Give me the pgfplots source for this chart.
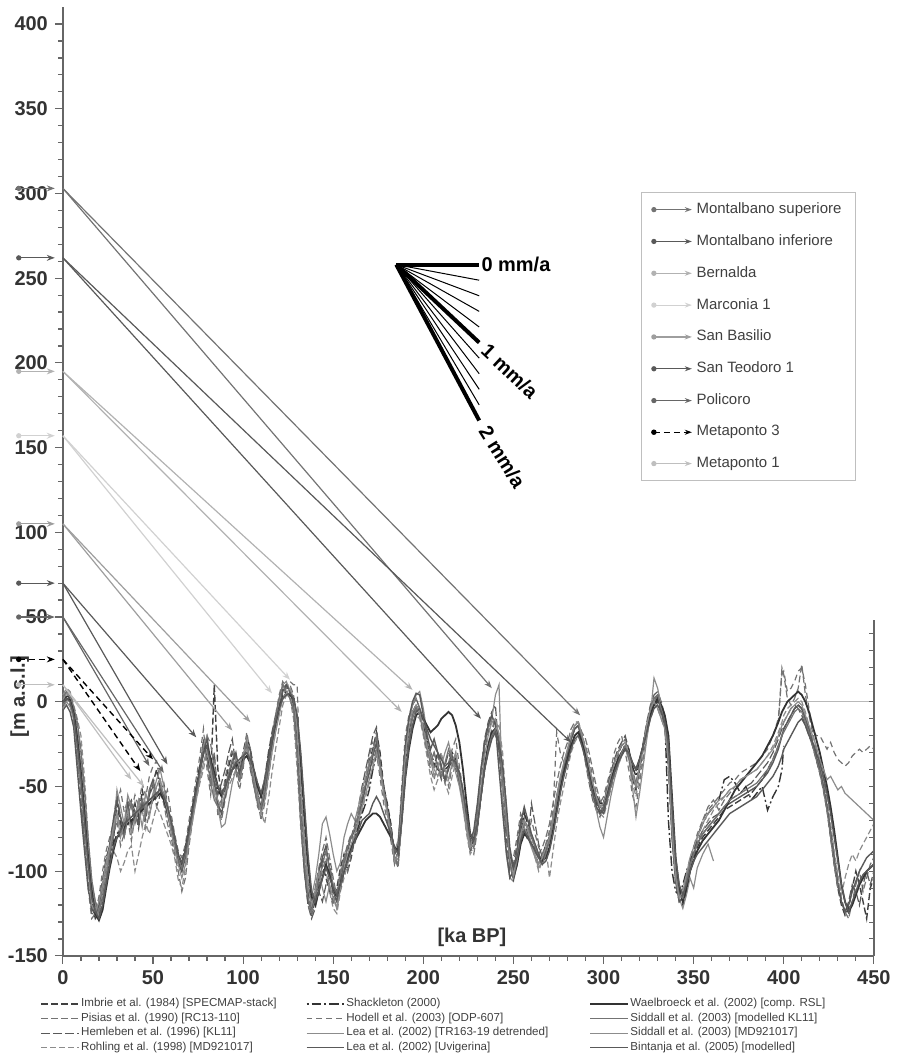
\documentclass[border=0pt]{standalone}
\usepackage{fontspec}
\setmainfont{Liberation Sans}
\usepackage{pgfplots}
\usepackage{pgfplotstable}
\pgfplotsset{compat=1.18}
\usetikzlibrary{arrows.meta}

\definecolor{g20}{gray}{0.20}
\definecolor{g25}{gray}{0.25}
\definecolor{g30}{gray}{0.30}
\definecolor{g35}{gray}{0.35}
\definecolor{g40}{gray}{0.40}
\definecolor{g45}{gray}{0.45}
\definecolor{g50}{gray}{0.50}
\definecolor{g55}{gray}{0.55}
\definecolor{g62}{gray}{0.62}
\definecolor{g65}{gray}{0.65}
\definecolor{g70}{gray}{0.70}
\definecolor{g75}{gray}{0.75}
\definecolor{g82}{gray}{0.82}
\definecolor{axisgray}{gray}{0.40}

% sea level curves, m a.s.l. against ka BP
% a Imbrie, b Pisias, c Hemleben, d Rohling, e Shackleton, f Hodell,
% g Lea TR163, h Lea Uvigerina, i Waelbroeck, j Siddall KL11, k Siddall MD, l Bintanja
\pgfplotstableread{
x a b c d e f g h i j k l
0 0 2 -3 4 0 -2 1 -5 0 3 -4 0
2 4 6 1 8 3 2 5 -2 2 6 0 2
4 2 5 -2 6 4 0 3 -6 1 4 -3 0
6 -8 -4 -10 -2 -6 -12 -5 -15 -6 -3 -10 -8
8 -25 -15 -30 -10 -20 -35 -18 -40 -22 -12 -28 -25
10 -45 -30 -55 -20 -40 -60 -38 -65 -42 -28 -50 -45
12 -70 -55 -80 -45 -65 -85 -62 -88 -66 -52 -75 -70
14 -95 -85 -105 -80 -92 -110 -88 -110 -92 -80 -100 -95
16 -118 -110 -125 -105 -112 -128 -108 -122 -112 -105 -120 -115
18 -128 -120 -126 -120 -124 -125 -118 -126 -125 -118 -124 -124
20 -125 -128 -118 -126 -128 -115 -122 -120 -129 -124 -118 -128
22 -115 -122 -105 -120 -120 -100 -112 -108 -123 -116 -108 -120
24 -100 -110 -92 -108 -106 -88 -100 -95 -110 -104 -95 -108
26 -90 -95 -85 -96 -94 -80 -88 -84 -98 -90 -86 -96
28 -82 -80 -70 -88 -84 -72 -76 -70 -88 -78 -74 -86
30 -60 -70 -55 -92 -78 -60 -52 -58 -80 -66 -66 -80
32 -72 -85 -68 -100 -75 -52 -62 -68 -78 -74 -80 -76
34 -80 -78 -75 -95 -70 -65 -72 -78 -74 -80 -72 -72
36 -66 -70 -62 -88 -68 -58 -55 -60 -72 -68 -64 -70
38 -72 -82 -58 -85 -72 -64 -62 -74 -70 -60 -78 -68
40 -60 -68 -65 -100 -66 -55 -70 -66 -68 -72 -70 -66
42 -70 -58 -75 -90 -64 -62 -58 -72 -66 -64 -62 -64
44 -52 -62 -60 -80 -62 -48 -66 -58 -64 -58 -74 -62
46 -62 -75 -70 -72 -60 -56 -54 -66 -62 -66 -60 -60
48 -55 -66 -55 -78 -58 -44 -62 -52 -60 -52 -68 -58
50 -48 -58 -50 -70 -56 -38 -54 -46 -58 -48 -56 -56
52 -40 -50 -62 -62 -54 -35 -46 -56 -56 -56 -50 -54
54 -52 -45 -55 -66 -52 -48 -40 -50 -54 -50 -46 -52
56 -60 -60 -48 -72 -56 -58 -50 -58 -58 -54 -56 -56
58 -66 -72 -60 -78 -62 -52 -62 -66 -64 -62 -64 -62
60 -74 -80 -72 -84 -70 -66 -74 -76 -72 -72 -76 -70
62 -85 -90 -82 -92 -80 -78 -84 -86 -82 -82 -86 -80
64 -95 -100 -92 -105 -90 -88 -94 -95 -92 -92 -96 -90
66 -100 -112 -96 -110 -95 -92 -98 -100 -96 -98 -104 -95
68 -88 -104 -90 -98 -86 -84 -90 -92 -88 -90 -96 -88
70 -75 -85 -78 -80 -74 -70 -76 -78 -76 -78 -82 -76
72 -62 -70 -65 -68 -62 -58 -64 -66 -64 -66 -70 -64
74 -50 -55 -52 -58 -50 -45 -52 -54 -52 -54 -58 -52
76 -38 -42 -40 -48 -38 -32 -40 -42 -40 -42 -46 -40
78 -25 -30 -22 -40 -28 -16 -26 -30 -30 -28 -36 -30
80 -30 -20 -35 -30 -32 -40 -20 -22 -26 -34 -28 -26
82 -45 -25 -50 -42 -40 -55 -38 -35 -34 -48 -40 -36
84 10 -40 -30 -55 -48 -30 -55 -48 -42 -58 -52 -44
86 -40 -62 -55 -60 -52 -68 -62 -60 -50 -62 -58 -50
88 -55 -70 -48 -62 -56 -60 -74 -66 -55 -58 -62 -54
90 -48 -58 -40 -55 -52 -45 -72 -56 -52 -50 -54 -50
92 -38 -48 -30 -50 -46 -35 -60 -44 -46 -42 -46 -45
94 -30 -40 -22 -45 -40 -28 -48 -36 -40 -34 -40 -40
96 -35 -32 -38 -40 -36 -42 -40 -30 -38 -40 -34 -36
98 -42 -45 -48 -38 -34 -52 -46 -42 -36 -46 -38 -34
100 -30 -38 -35 -30 -32 -40 -32 -34 -34 -36 -30 -32
102 -20 -25 -22 -28 -30 -18 -22 -26 -32 -24 -28 -30
104 -28 -30 -40 -35 -34 -30 -36 -28 -36 -38 -34 -34
106 -40 -45 -50 -42 -40 -48 -46 -44 -42 -50 -44 -40
108 -55 -58 -60 -52 -48 -62 -58 -56 -50 -60 -56 -48
110 -62 -70 -55 -65 -56 -66 -64 -64 -56 -62 -66 -54
112 -50 -60 -45 -72 -50 -54 -52 -56 -48 -50 -58 -46
114 -35 -45 -30 -58 -36 -38 -38 -40 -34 -36 -44 -34
116 -20 -30 -18 -42 -22 -22 -24 -26 -22 -22 -30 -22
118 -10 -18 -8 -28 -10 -8 -12 -14 -12 -10 -18 -12
120 0 -6 2 -15 -2 4 0 -4 -4 2 -8 -4
122 8 5 10 -2 4 12 10 6 2 10 2 2
124 10 8 6 4 6 8 12 10 5 6 5 4
126 5 10 2 2 4 12 6 6 4 2 8 5
128 2 4 -6 -10 2 10 0 -2 2 -4 2 2
130 -10 -20 -30 -40 -20 10 -18 -30 -10 -30 -15 -8
132 -40 -55 -70 -75 -55 -60 -50 -70 -35 -70 -50 -30
134 -75 -85 -100 -100 -85 -95 -80 -100 -65 -95 -85 -60
136 -105 -110 -120 -118 -112 -120 -105 -118 -95 -115 -110 -90
138 -122 -118 -128 -124 -125 -126 -115 -122 -115 -124 -120 -112
140 -118 -110 -122 -114 -118 -120 -105 -112 -120 -116 -112 -118
142 -108 -98 -112 -100 -105 -110 -90 -100 -112 -106 -100 -112
144 -96 -88 -118 -92 -95 -100 -72 -92 -104 -96 -110 -104
146 -104 -80 -108 -100 -88 -92 -68 -85 -96 -88 -118 -98
148 -112 -92 -100 -112 -96 -110 -78 -100 -102 -98 -108 -104
150 -118 -104 -115 -122 -110 -120 -90 -112 -110 -108 -116 -110
152 -110 -115 -122 -125 -118 -112 -100 -118 -114 -114 -122 -114
154 -98 -104 -110 -112 -110 -100 -95 -106 -108 -102 -110 -108
156 -90 -92 -98 -104 -100 -92 -80 -95 -100 -94 -98 -100
158 -100 -84 -88 -96 -92 -100 -72 -86 -92 -86 -90 -94
160 -92 -78 -80 -88 -86 -90 -66 -80 -86 -80 -84 -88
162 -80 -84 -72 -80 -80 -78 -70 -76 -82 -74 -78 -82
164 -70 -74 -62 -72 -74 -66 -62 -70 -78 -66 -70 -76
166 -58 -62 -50 -64 -66 -54 -52 -60 -74 -56 -62 -70
168 -48 -50 -40 -56 -60 -44 -44 -50 -70 -48 -54 -68
170 -35 -42 -30 -48 -52 -32 -36 -42 -68 -38 -46 -66
172 -28 -35 -20 -40 -40 -24 -30 -32 -66 -30 -38 -60
174 -18 -28 -15 -32 -30 -30 -26 -24 -66 -20 -30 -56
176 -30 -40 -35 -40 -38 -45 -40 -38 -68 -36 -40 -60
178 -50 -55 -50 -52 -50 -60 -52 -52 -72 -52 -54 -66
180 -60 -65 -62 -62 -62 -70 -64 -64 -76 -64 -66 -72
182 -72 -76 -74 -76 -74 -82 -76 -76 -80 -76 -78 -78
184 -90 -92 -95 -96 -92 -96 -88 -90 -86 -92 -94 -86
186 -85 -98 -88 -92 -95 -88 -82 -86 -88 -96 -90 -90
188 -60 -70 -55 -65 -70 -50 -58 -56 -70 -72 -62 -70
190 -30 -40 -25 -38 -40 -20 -30 -26 -45 -42 -32 -44
192 -15 -20 -10 -22 -18 -8 -12 -10 -28 -22 -16 -26
194 -8 -8 -2 -14 -6 -2 -2 0 -16 -10 -6 -14
196 -4 -2 2 -8 -2 2 4 5 -8 -4 -2 -6
198 -8 -6 -4 -10 -6 -4 6 4 -6 -8 -6 -4
200 -15 -18 -14 -20 -14 -12 -4 -8 -10 -18 -16 -10
202 -24 -30 -26 -32 -22 -24 -18 -20 -14 -28 -26 -16
204 -32 -40 -36 -44 -30 -34 -30 -28 -18 -36 -34 -22
206 -38 -46 -30 -52 -36 -40 -40 -22 -16 -30 -44 -26
208 -30 -36 -38 -46 -40 -32 -44 -30 -14 -38 -38 -30
210 -40 -30 -46 -40 -42 -40 -38 -38 -10 -44 -32 -34
212 -46 -42 -38 -48 -40 -48 -30 -46 -8 -36 -40 -38
214 -38 -50 -30 -54 -38 -36 -24 -40 -6 -28 -46 -36
216 -30 -38 -36 -44 -36 -28 -34 -32 -8 -34 -36 -34
218 -34 -30 -40 -36 -38 -22 -42 -36 -14 -38 -30 -36
220 -42 -44 -48 -46 -44 -38 -50 -46 -24 -46 -44 -42
222 -55 -58 -60 -62 -54 -52 -62 -58 -40 -58 -58 -52
224 -70 -74 -76 -78 -68 -70 -76 -72 -60 -72 -74 -66
226 -84 -86 -88 -90 -80 -84 -86 -82 -78 -84 -86 -78
228 -80 -90 -82 -86 -84 -80 -78 -76 -82 -86 -84 -82
230 -65 -76 -66 -72 -74 -62 -62 -60 -72 -74 -70 -72
232 -45 -55 -40 -56 -56 -40 -42 -40 -54 -56 -50 -56
234 -28 -38 -22 -40 -40 -24 -26 -24 -38 -40 -32 -40
236 -18 -25 -12 -30 -28 -14 -16 -14 -26 -28 -20 -30
238 -10 -16 -6 -22 -20 -8 -10 -8 -18 -20 -12 -22
240 -12 -10 -2 -16 -16 -20 4 -14 -16 -16 -10 -18
242 -25 -20 -30 -14 -22 -30 10 -40 -24 -24 -20 -24
244 -45 -40 -55 -30 -40 -50 -60 -65 -40 -44 -40 -38
246 -70 -68 -80 -60 -66 -76 -90 -88 -66 -70 -66 -60
248 -95 -92 -100 -88 -90 -98 -104 -104 -92 -96 -92 -86
250 -104 -100 -96 -102 -100 -92 -106 -100 -104 -104 -102 -98
252 -96 -88 -84 -94 -92 -80 -96 -88 -96 -94 -92 -92
254 -82 -76 -70 -80 -78 -66 -84 -72 -84 -80 -78 -82
256 -72 -64 -76 -68 -66 -72 -74 -62 -78 -70 -70 -76
258 -78 -70 -82 -76 -72 -80 -80 -70 -80 -74 -76 -80
260 -84 -78 -60 -84 -80 -70 -86 -78 -84 -80 -84 -84
262 -90 -84 -72 -92 -86 -78 -92 -84 -88 -86 -90 -88
264 -96 -90 -84 -100 -90 -86 -98 -90 -92 -92 -96 -92
266 -92 -86 -92 -94 -94 -90 -94 -94 -94 -96 -92 -96
268 -84 -80 -88 -86 -88 -84 -88 -88 -92 -90 -86 -94
270 -80 -72 -82 -104 -80 -76 -82 -80 -86 -82 -80 -88
272 -70 -60 -72 -88 -70 -64 -72 -68 -76 -70 -68 -78
274 -58 -48 -56 -72 -58 -18 -60 -56 -64 -58 -56 -66
276 -48 -38 -46 -60 -48 -30 -48 -46 -52 -46 -44 -54
278 -40 -30 -38 -50 -40 -36 -38 -38 -42 -36 -36 -44
280 -32 -24 -30 -40 -34 -30 -30 -30 -34 -28 -28 -36
282 -22 -16 -22 -30 -26 -22 -22 -22 -26 -20 -20 -28
284 -16 -12 -16 -24 -20 -16 -16 -16 -20 -14 -14 -22
286 -14 -12 -14 -20 -18 -14 -14 -14 -18 -12 -12 -20
288 -20 -18 -24 -26 -24 -20 -22 -22 -24 -20 -20 -26
290 -30 -22 -36 -34 -32 -26 -34 -30 -32 -28 -28 -34
292 -42 -30 -48 -44 -42 -34 -46 -40 -42 -38 -38 -44
294 -52 -40 -58 -54 -50 -44 -56 -50 -50 -48 -48 -54
296 -60 -50 -64 -62 -58 -54 -64 -58 -56 -56 -56 -62
298 -66 -58 -68 -66 -62 -60 -74 -64 -60 -62 -62 -66
300 -62 -62 -60 -68 -60 -56 -80 -66 -60 -64 -60 -64
302 -54 -56 -50 -60 -52 -48 -68 -58 -54 -58 -52 -56
304 -46 -48 -42 -52 -44 -40 -56 -50 -46 -50 -44 -48
306 -40 -40 -34 -44 -36 -30 -46 -42 -40 -42 -36 -42
308 -34 -32 -28 -38 -30 -24 -38 -36 -34 -36 -30 -36
310 -30 -26 -24 -32 -26 -20 -32 -30 -30 -30 -26 -32
312 -26 -22 -20 -28 -24 -30 -28 -26 -28 -26 -24 -28
314 -32 -28 -28 -34 -28 -40 -32 -32 -30 -32 -30 -30
316 -45 -40 -42 -48 -38 -55 -50 -44 -36 -44 -42 -36
318 -52 -48 -50 -56 -44 -62 -68 -50 -40 -50 -50 -40
320 -40 -38 -36 -44 -36 -48 -54 -38 -34 -38 -38 -34
322 -28 -26 -24 -32 -26 -34 -38 -26 -26 -26 -26 -26
324 -16 -14 -12 -20 -16 -20 -22 -14 -16 -14 -14 -18
326 -6 -4 -2 -10 -8 -8 -8 -4 -8 -4 -4 -10
328 -2 0 4 -4 -2 0 14 2 -2 2 0 -4
330 0 -4 6 -2 2 4 8 4 2 4 -4 -2
332 -6 -10 0 -8 -4 -2 -2 -6 -2 -4 -10 -6
334 -14 -16 -8 -14 -10 -10 -14 -14 -8 -12 -16 -12
336 -30 -40 -20 -36 -70 -30 -30 -36 -20 -30 -36 -24
338 -70 -80 -60 -76 -100 -76 -70 -80 -56 -72 -76 -60
340 -100 -108 -96 -104 -112 -104 -100 -106 -92 -100 -104 -92
342 -116 -118 -112 -118 -114 -114 -116 -118 -110 -114 -116 -108
344 -120 -114 -118 -116 -108 -110 -122 -116 -118 -116 -112 -114
346 -112 -104 -108 -106 -100 -102 -114 -106 -110 -106 -102 -108
348 -100 -94 -96 -96 -94 -92 -104 -96 -100 -96 -92 -100
350 -92 -88 -88 -90 -86 -86 -110 -90 -94 -90 -86 -94
352 -86 -80 -82 -84 -80 -78 -98 -84 -88 -84 -80 -90
355 -80 -70 -76 -76 -72 -70 -90 -78 -82 -78 -72 -86
358 -76 -62 -72 -70 -66 -64 -84 -74 -78 -74 -66 -82
361 -72 -58 -68 -64 -62 -60 -94 -70 -74 -70 -62 -78
364 -68 -64 -66 -60 -58 -56 nan -66 -70 -66 -58 -74
367 -64 -58 -62 -56 -46 -52 nan -62 -64 -62 -56 -70
370 -62 -54 -58 -52 -44 -48 nan -60 -58 -58 -52 -66
373 -60 -50 -56 -50 -48 -46 nan -58 -52 -56 -50 -64
376 -58 -46 -54 -46 -54 -42 nan -56 -48 -54 -46 -62
379 -56 -44 -50 -44 -50 -40 nan -54 -44 -52 -44 -60
382 -54 -40 -48 -42 -58 -38 nan -52 -40 -50 -42 -58
385 -50 -36 -44 -40 -54 -36 nan -50 -36 -48 -40 -56
388 -46 -32 -40 -36 -50 -32 nan -46 -32 -44 -36 -52
391 -40 -26 -36 -32 -64 -28 nan -42 -26 -40 -32 -48
394 -34 -20 -30 -26 -56 -20 nan -36 -20 -34 -28 -44
397 -26 -12 -22 -18 -50 -10 nan -28 -12 -26 -20 -38
399 -20 20 -16 -12 -40 16 nan -20 -6 -20 -14 -32
400 -16 16 -12 -8 -26 18 nan -16 -4 -18 -12 -28
402 -12 2 -8 -4 nan 6 nan -12 0 -14 -8 -24
404 -8 -2 -4 -2 nan 8 nan -8 2 -10 -4 -20
406 -4 2 -2 0 nan 12 nan -4 4 -6 -2 -16
408 -2 8 -4 2 nan 18 nan -2 6 -4 0 -12
410 -4 22 -8 0 nan 20 nan -4 4 -6 -2 -10
412 -10 4 -14 -6 nan 10 nan -10 0 -12 -8 -14
414 -18 -8 -20 -14 nan -4 nan -16 -6 -18 -14 -20
416 -26 -18 -26 -22 nan -16 nan -24 -14 -26 -20 -24
418 -34 -28 -32 -30 nan -20 nan -32 -22 -34 -26 -30
420 -42 -36 -40 -38 nan -20 nan -40 -30 -42 -34 -36
422 -52 -46 -50 -48 nan -24 nan -50 -40 -52 -40 -44
424 -64 -58 -62 -58 nan -28 nan -62 -50 -64 -46 -54
426 -80 -74 -78 -72 nan -24 nan -78 -62 -80 -44 -66
428 -96 -90 -94 -88 nan -30 nan -94 -76 -96 -48 -80
430 -110 -104 -108 -102 nan -34 nan -108 -92 -110 -52 -94
432 -120 -116 -118 -114 nan -36 nan -118 -108 nan -50 -108
434 -126 -124 -124 -104 nan -38 nan -124 -118 nan -54 -118
436 -122 -128 -118 -96 nan -36 nan -120 -124 nan -56 -124
438 -110 -118 -108 -90 nan -32 nan -112 -120 nan -58 -118
440 -100 -108 -112 -94 nan -30 nan -106 -114 nan -60 -112
442 -108 -100 -120 -88 nan -28 nan -100 -108 nan -62 -106
444 -118 -112 -108 -84 nan -30 nan -96 -104 nan -64 -102
446 -128 -104 -100 -80 nan -28 nan -92 -100 nan -66 -100
448 -110 -96 -108 -76 nan -26 nan -90 -98 nan -68 -98
450 -104 -92 -100 -72 nan -28 nan -88 -96 nan -70 -96
}\sealevel

\pgfplotsset{
  frame/.style={width=406pt, height=475pt, scale only axis,
    xmin=0, xmax=450, ymin=-150, ymax=410, clip=false},
  sa/.style={g25, line width=0.7pt, dash pattern=on 3.5pt off 1.5pt},
  sb/.style={g45, line width=0.6pt, dash pattern=on 3.5pt off 1.5pt},
  sc/.style={g35, line width=0.6pt, dash pattern=on 4.5pt off 1.5pt},
  sd/.style={g55, line width=0.6pt, dash pattern=on 3pt off 1.5pt},
  se/.style={g20, line width=0.7pt, dash pattern=on 1pt off 1.5pt on 5pt off 1.5pt},
  sf/.style={g45, line width=0.6pt, dash pattern=on 3pt off 2pt},
  sg/.style={g55, line width=0.6pt},
  sh/.style={g35, line width=0.7pt},
  si/.style={g20, line width=0.9pt},
  sj/.style={g45, line width=0.6pt},
  sk/.style={g55, line width=0.6pt},
  sl/.style={g35, line width=0.7pt},
  tsup/.style={g45, line width=0.6pt},
  tinf/.style={g35, line width=0.6pt},
  tber/.style={g70, line width=0.6pt},
  tmar/.style={g82, line width=0.6pt},
  tbas/.style={g62, line width=0.6pt},
  tteo/.style={g35, line width=0.6pt},
  tpol/.style={g40, line width=0.6pt},
  tmp3/.style={black, line width=0.7pt, dash pattern=on 3pt off 2pt},
  tmp1/.style={g75, line width=0.6pt},
  tarrow/.style={-{Stealth[length=4pt,width=3pt]}},
  tleft/.style={-{Stealth[length=4pt,width=3pt]}, mark=*, mark indices={1},
    mark size=1pt, mark options={solid}},
}

\newcommand{\lab}{\fontsize{10}{11}\selectfont\bfseries}

\begin{document}
\begin{tikzpicture}
\begin{axis}[frame,
  axis x line=bottom, axis y line=left,
  axis line style={-, draw=axisgray, line width=0.8pt},
  xtick={0,50,...,450}, ytick={-150,-100,...,400},
  minor x tick num=4, minor y tick num=4,
  tick style={draw=axisgray, line width=0.6pt},
  major tick length=4pt, minor tick length=2.5pt, tick align=outside,
  ticklabel style={font=\lab, text=black!80},
  /pgf/number format/assume math mode=true,
  unbounded coords=jump,
  legend columns=4, transpose legend, legend cell align=left,
  legend image code/.code={\draw[#1] (0pt,0pt) -- (19pt,0pt);},
  legend style={at={(-0.028,-0.043)}, anchor=north west, draw=none, fill=none,
    inner sep=0pt, font=\fontsize{5.8}{6.5}\selectfont, text=black!75,
    row sep=0.4pt, nodes={inner sep=0.6pt},
    /tikz/column 2/.style={column sep=14pt},
    /tikz/column 4/.style={column sep=20pt}},
]
\addplot[gray!55, line width=0.6pt, forget plot] coordinates {(0,0) (450,0)};

\addplot[sa] table[x=x, y=a] {\sealevel};
\addlegendentry{Imbrie et al. (1984) [SPECMAP-stack]}
\addplot[sb] table[x=x, y=b] {\sealevel};
\addlegendentry{Pisias et al. (1990) [RC13-110]}
\addplot[sc] table[x=x, y=c] {\sealevel};
\addlegendentry{Hemleben et al. (1996) [KL11]}
\addplot[sd] table[x=x, y=d] {\sealevel};
\addlegendentry{Rohling et al. (1998) [MD921017]}
\addplot[se] table[x=x, y=e] {\sealevel};
\addlegendentry{Shackleton (2000)}
\addplot[sf] table[x=x, y=f] {\sealevel};
\addlegendentry{Hodell et al. (2003) [ODP-607]}
\addplot[sg] table[x=x, y=g] {\sealevel};
\addlegendentry{Lea et al. (2002) [TR163-19 detrended]}
\addplot[sh] table[x=x, y=h] {\sealevel};
\addlegendentry{Lea et al. (2002) [Uvigerina]}
\addplot[si] table[x=x, y=i] {\sealevel};
\addlegendentry{Waelbroeck et al. (2002) [comp. RSL]}
\addplot[sj] table[x=x, y=j] {\sealevel};
\addlegendentry{Siddall et al. (2003) [modelled KL11]}
\addplot[sk] table[x=x, y=k] {\sealevel};
\addlegendentry{Siddall et al. (2003) [MD921017]}
\addplot[sl] table[x=x, y=l] {\sealevel};
\addlegendentry{Bintanja et al. (2005) [modelled]}

% right-hand axis
\draw[axisgray, line width=0.8pt] (axis cs:450,-150) -- (axis cs:450,48);
\pgfplotsinvokeforeach{-140,-130,...,40}{
  \draw[axisgray, line width=0.5pt] (axis cs:450,#1) -- ++(-2.5pt,0pt);
}

\node[rotate=90, font=\lab, text=black!80] at (axis cs:-24,3) {[m a.s.l.]};
\node[font=\lab, text=black!80] at (axis cs:227,-139) {[ka BP]};

% page frame
\path (axis cs:-34.9,414.2) rectangle (axis cs:460.6,-208.5);
\end{axis}

\begin{axis}[frame, hide axis,
  legend cell align=left,
  legend image code/.code={
    \draw[#1, -{Stealth[length=3.5pt,width=2.5pt]}] (0pt,0pt) -- (19pt,0pt);
    \fill[#1, solid] (0pt,0pt) circle (1pt);},
  legend style={at={(0.978,0.805)}, anchor=north east, draw=gray!50,
    line width=0.6pt, fill=white, font=\fontsize{7.5}{8.5}\selectfont,
    text=black!75, row sep=5pt, inner xsep=5pt, inner ysep=3pt},
]
% terraces: elevation on the y axis, lines to the correlated highstands
\addplot[tsup, tleft, forget plot] coordinates {(-24.5,303) (-4.5,303)};
\addplot[tsup, tarrow, forget plot] coordinates {(0,303) (238,8)};
\addplot[tsup, tarrow, forget plot] coordinates {(0,303) (287,-8)};
\addplot[tinf, tleft, forget plot] coordinates {(-24.5,262) (-4.5,262)};
\addplot[tinf, tarrow, forget plot] coordinates {(0,262) (232,-10)};
\addplot[tinf, tarrow, forget plot] coordinates {(0,262) (282,-24)};
\addplot[tber, tleft, forget plot] coordinates {(-24.5,195) (-4.5,195)};
\addplot[tber, tarrow, forget plot] coordinates {(0,195) (194,7)};
\addplot[tber, tarrow, forget plot] coordinates {(0,195) (188,-6)};
\addplot[tmar, tleft, forget plot] coordinates {(-24.5,157) (-4.5,157)};
\addplot[tmar, tarrow, forget plot] coordinates {(0,157) (126,13)};
\addplot[tmar, tarrow, forget plot] coordinates {(0,157) (116,5)};
\addplot[tbas, tleft, forget plot] coordinates {(-24.5,105) (-4.5,105)};
\addplot[tbas, tarrow, forget plot] coordinates {(0,105) (104,-12)};
\addplot[tbas, tarrow, forget plot] coordinates {(0,105) (94,-17)};
\addplot[tteo, tleft, forget plot] coordinates {(-24.5,70) (-4.5,70)};
\addplot[tteo, tarrow, forget plot] coordinates {(0,70) (74,-21)};
\addplot[tteo, tarrow, forget plot] coordinates {(0,70) (58,-37)};
\addplot[tpol, tleft, forget plot] coordinates {(-24.5,50) (-4.5,50)};
\addplot[tpol, tarrow, forget plot] coordinates {(0,50) (48,-38)};
\addplot[tpol, tarrow, forget plot] coordinates {(0,50) (56,-42)};
\addplot[tmp3, tleft, forget plot] coordinates {(-24.5,25) (-4.5,25)};
\addplot[tmp3, tarrow, forget plot] coordinates {(0,25) (43,-41)};
\addplot[tmp3, tarrow, forget plot] coordinates {(0,25) (50,-34)};
\addplot[tmp1, tleft, forget plot] coordinates {(-24.5,10) (-4.5,10)};
\addplot[tmp1, tarrow, forget plot] coordinates {(0,10) (38,-46)};
\addplot[tmp1, tarrow, forget plot] coordinates {(0,10) (45,-50)};

% uplift-rate fan, 0 to 2 mm/a in steps of 0.2 mm/a
\addplot[black, line width=2pt, forget plot] coordinates {(185,258) (231,258)};
\addplot[black, line width=0.5pt, forget plot] coordinates {(185,258) (231,248.8)};
\addplot[black, line width=0.5pt, forget plot] coordinates {(185,258) (231,239.6)};
\addplot[black, line width=0.5pt, forget plot] coordinates {(185,258) (231,230.4)};
\addplot[black, line width=0.5pt, forget plot] coordinates {(185,258) (231,221.2)};
\addplot[black, line width=2pt, forget plot] coordinates {(185,258) (231,212)};
\addplot[black, line width=0.5pt, forget plot] coordinates {(185,258) (231,202.8)};
\addplot[black, line width=0.5pt, forget plot] coordinates {(185,258) (231,193.6)};
\addplot[black, line width=0.5pt, forget plot] coordinates {(185,258) (231,184.4)};
\addplot[black, line width=0.5pt, forget plot] coordinates {(185,258) (231,175.2)};
\addplot[black, line width=2pt, forget plot] coordinates {(185,258) (231,166)};
\node[font=\lab, anchor=west, inner sep=1pt] at (axis cs:231,258) {0 mm/a};
\node[font=\lab, anchor=west, inner sep=1pt, rotate=-43] at (axis cs:233,210) {1 mm/a};
\node[font=\lab, anchor=west, inner sep=1pt, rotate=-58] at (axis cs:233,163) {2 mm/a};

\addlegendimage{tsup}
\addlegendentry{Montalbano superiore}
\addlegendimage{tinf}
\addlegendentry{Montalbano inferiore}
\addlegendimage{tber}
\addlegendentry{Bernalda}
\addlegendimage{tmar}
\addlegendentry{Marconia 1}
\addlegendimage{tbas}
\addlegendentry{San Basilio}
\addlegendimage{tteo}
\addlegendentry{San Teodoro 1}
\addlegendimage{tpol}
\addlegendentry{Policoro}
\addlegendimage{tmp3}
\addlegendentry{Metaponto 3}
\addlegendimage{tmp1}
\addlegendentry{Metaponto 1}
\end{axis}
\end{tikzpicture}
\end{document}
